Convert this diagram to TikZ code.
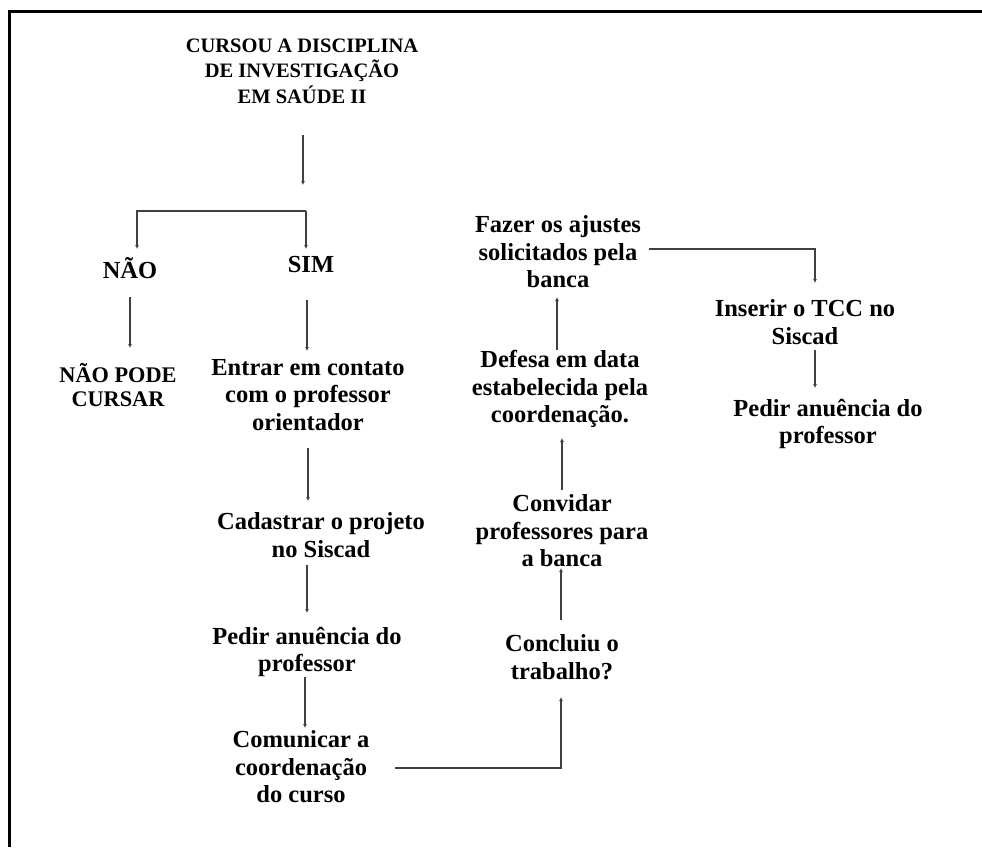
\documentclass[tikz,border=0pt]{standalone}
\usepackage{fontspec}
\setmainfont{Liberation Serif}
\usetikzlibrary{arrows.meta,calc}
\tikzset{
  txt/.style={font=\fontsize{24.5}{27.5}\selectfont\bfseries, align=center, inner sep=0pt},
  ttl/.style={font=\fontsize{20.5}{25.5}\selectfont\bfseries, align=center, inner sep=0pt},
  sml/.style={font=\fontsize{22.3}{24.5}\selectfont\bfseries, align=center, inner sep=0pt},
  arr/.style={draw=black!75, line width=1.2pt, -{Latex[length=4pt,width=4pt]}},
  ln/.style={draw=black!75, line width=1.2pt},
  frame/.style={draw=black, line width=3pt, line join=miter},
}
\begin{document}
\begin{tikzpicture}[x=1pt,y=-1pt]
\useasboundingbox (0,0) rectangle (982,847);
\draw[frame] (9.3,847) -- (9.3,11.3) -- (982,11.3);

\node[ttl] (title) at (302,71) {CURSOU A DISCIPLINA\\DE INVESTIGAÇÃO\\EM SAÚDE II};
\node[txt] (nao) at (130,268) {NÃO};
\node[txt] (sim) at (311,265) {SIM};
\node[sml] (naopode) at (118,385) {NÃO PODE\\CURSAR};
\node[txt] (entrar) at (308,395) {Entrar em contato\\com o professor\\orientador};
\node[txt] (cad) at (321,535) {Cadastrar o projeto\\no Siscad};
\node[txt] (pedir1) at (307,652) {Pedir anuência do\\professor};
\node[txt] (com) at (301,767) {Comunicar a\\coordenação\\do curso};
\node[txt] (concl) at (562,657) {Concluiu o\\trabalho?};
\node[txt] (conv) at (562,531) {Convidar\\professores para\\a banca};
\node[txt] (def) at (560,389) {Defesa em data\\estabelecida pela\\coordenação.};
\node[txt] (faz) at (558,252) {Fazer os ajustes\\solicitados pela\\banca};
\node[txt] (ins) at (805,322) {Inserir o TCC no\\Siscad};
\node[txt] (pedir2) at (828,424) {Pedir anuência do\\professor};

\coordinate (fork) at (306,211);
\draw[arr] ($(title)+(1,64)$) -- ($(title)+(1,114)$);
\draw[arr] (fork) -| ($(nao)+(7,-19)$);
\draw[arr] (fork) -- ($(sim)+(-5,-16)$);
\draw[arr] ($(nao)+(0,29)$) -- ($(naopode)+(12,-37)$);
\draw[arr] ($(sim)+(-4,35)$) -- ($(entrar)+(-1,-44)$);
\draw[arr] ($(entrar)+(0,53)$) -- ($(cad)+(-13,-34)$);
\draw[arr] ($(cad)+(-14,30)$) -- ($(pedir1)+(0,-39)$);
\draw[arr] ($(pedir1)+(-2,25)$) -- ($(com)+(4,-39)$);
\draw[arr] ($(com)+(94,1)$) -| ($(concl)+(-1,40)$);
\draw[arr] ($(concl)+(-1,-37)$) -- ($(conv)+(-1,37)$);
\draw[arr] ($(conv)+(0,-41)$) -- ($(def)+(2,49)$);
\draw[arr] ($(def)+(-3,-39)$) -- ($(faz)+(-1,45)$);
\draw[arr] ($(faz)+(91,-3)$) -| ($(ins)+(10,-39)$);
\draw[arr] ($(ins)+(10,28)$) -- ($(pedir2)+(-13,-36)$);
\end{tikzpicture}
\end{document}
